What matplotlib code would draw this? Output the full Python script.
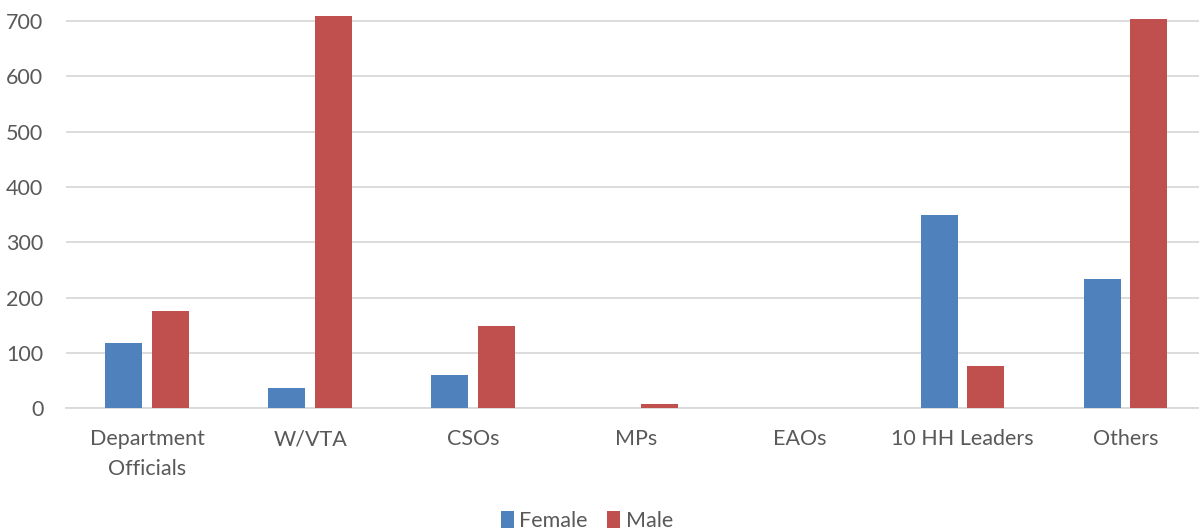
import matplotlib.pyplot as plt
import numpy as np

categories = ["Department\nOfficials", "W/VTA", "CSOs", "MPs", "EAOs", "10 HH Leaders", "Others"]
female = [119, 37, 60, 0, 0, 349, 234]
male = [176, 710, 149, 8, 0, 76, 704]

plt.rcParams['font.family'] = ['Lato', 'DejaVu Sans']
text_color = "#595959"
grid_color = "#d9d9d9"

fig = plt.figure(figsize=(11.99, 5.31), dpi=100)
ax = fig.add_axes([65.5 / 1199, 0.2307, 1 - 65.5 / 1199, 0.7503])

x = np.arange(len(categories))
w = 0.227
off = 0.143
ax.bar(x - off, female, w, color="#4F81BD", label="Female", zorder=3)
ax.bar(x + off, male, w, color="#C0504D", label="Male", zorder=3)

ax.set_xlim(-0.5, 6.45)
ax.set_ylim(0, 720)
ax.set_yticks(range(0, 701, 100))
ax.set_xticks(x)
ax.set_xticklabels(categories, linespacing=1.62)
ax.yaxis.grid(True, color=grid_color, linewidth=1.3, zorder=0)
ax.tick_params(axis='both', length=0, labelsize=15.5, colors=text_color)
ax.tick_params(axis='x', pad=15)
ax.tick_params(axis='y', pad=16)
for s in ["top", "right", "left"]:
    ax.spines[s].set_visible(False)
ax.spines["bottom"].set_color(grid_color)
ax.spines["bottom"].set_linewidth(1.3)
ax.spines["bottom"].set_zorder(1)

leg = fig.legend(loc="center", bbox_to_anchor=(587 / 1199, 1 - 521 / 531), ncol=2,
                 frameon=False, fontsize=15.5, handlelength=0.6, handleheight=0.8,
                 handletextpad=0.25, columnspacing=0.9, labelcolor=text_color,
                 borderpad=0)

fig.savefig("out.png", dpi=100)
